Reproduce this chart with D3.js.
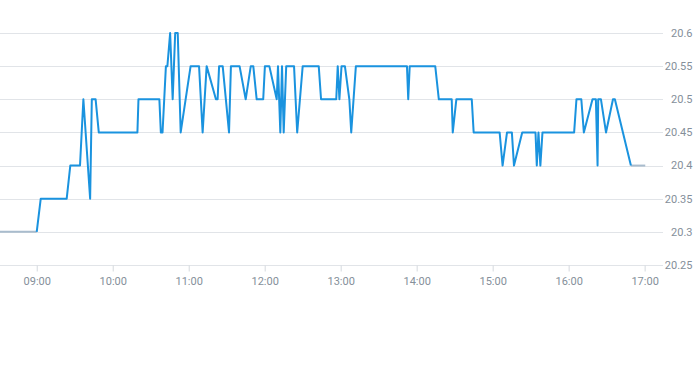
<!DOCTYPE html>
<html>
<head>
<meta charset="utf-8">
<script src="https://cdn.jsdelivr.net/npm/d3@7"></script>
<style>
  html, body { margin: 0; padding: 0; background: #fff; }
  svg { display: block; }
  text { font-family: Roboto, "Noto Sans", sans-serif; font-size: 11px; fill: #858f9a; }
</style>
</head>
<body>
<svg id="chart" width="693" height="365"></svg>
<script>
// ---- data ----
const preTimes   = ["08:30:00", "09:00:00"];
const preValues  = [20.30, 20.30];

const sessionTimes = [
  "09:00:00","09:03:10","09:23:40","09:26:30","09:34:10","09:36:50","09:42:10","09:43:30","09:46:30","09:49:00",
  "10:19:30","10:20:20","10:36:50","10:38:00","10:39:20","10:42:00","10:43:10","10:45:20","10:47:20","10:49:20",
  "10:51:20","10:53:40","11:01:30","11:08:10","11:11:00","11:14:10","11:21:30","11:22:50","11:24:00","11:26:50",
  "11:31:50","11:33:20","11:40:10","11:45:00","11:49:00","11:51:00","11:53:40","11:58:50","12:00:10","12:03:40",
  "12:09:30","12:10:30","12:12:20","12:13:40","12:15:00","12:17:00","12:23:10","12:25:40","12:30:00","12:42:40",
  "12:44:30","12:56:30","12:57:40","12:59:00","13:00:40","13:03:20","13:06:50","13:08:20","13:12:00","13:52:20",
  "13:53:20","13:54:30","14:14:40","14:17:30","14:27:40","14:28:30","14:31:20","14:43:30","14:45:00","15:05:30",
  "15:07:50","15:11:20","15:15:10","15:16:50","15:23:20","15:33:50","15:34:50","15:36:10","15:37:40","15:39:20",
  "16:04:20","16:06:10","16:10:00","16:12:00","16:18:50","16:21:30","16:22:50","16:23:20","16:25:30","16:29:30",
  "16:35:00","16:36:30","16:49:10"
];
const sessionValues = [
  20.30,20.35,20.35,20.40,20.40,20.50,20.35,20.50,20.50,20.45,
  20.45,20.50,20.50,20.45,20.45,20.55,20.55,20.60,20.50,20.60,
  20.60,20.45,20.55,20.55,20.45,20.55,20.50,20.50,20.55,20.55,
  20.45,20.55,20.55,20.50,20.55,20.55,20.50,20.50,20.55,20.55,
  20.50,20.55,20.45,20.55,20.45,20.55,20.55,20.45,20.55,20.55,
  20.50,20.50,20.55,20.50,20.55,20.55,20.50,20.45,20.55,20.55,
  20.50,20.55,20.55,20.50,20.50,20.45,20.50,20.50,20.45,20.45,
  20.40,20.45,20.45,20.40,20.45,20.45,20.40,20.45,20.40,20.45,
  20.45,20.50,20.50,20.45,20.50,20.50,20.40,20.50,20.50,20.45,
  20.50,20.50,20.40
];

const postTimes  = ["16:49:10", "17:00:30"];
const postValues = [20.40, 20.40];

const xTickLabels = ["09:00","10:00","11:00","12:00","13:00","14:00","15:00","16:00","17:00"];
const yTickValues = [20.25, 20.30, 20.35, 20.40, 20.45, 20.50, 20.55, 20.60];
const xDomain = ["08:31:00", "17:14:30"];
const yDomain = [20.25, 20.60];

// ---- chart ----
const parse = d3.timeParse("%H:%M:%S");
const parseHM = d3.timeParse("%H:%M");
const zip = (ts, vs) => ts.map((t, i) => ({ t: parse(t), v: vs[i] }));

const pre = zip(preTimes, preValues);
const session = zip(sessionTimes, sessionValues);
const post = zip(postTimes, postValues);

const plotLeft = 0, plotRight = 663, plotTop = 33, plotBottom = 265;

const x = d3.scaleTime().domain(xDomain.map(parse)).range([plotLeft, plotRight]);
const y = d3.scaleLinear().domain(yDomain).range([plotBottom, plotTop]);

const svg = d3.select("#chart");

// grid lines
svg.append("g").selectAll("line").data(yTickValues).join("line")
  .attr("x1", plotLeft).attr("x2", plotRight)
  .attr("y1", d => Math.round(y(d)) + 0.5).attr("y2", d => Math.round(y(d)) + 0.5)
  .attr("stroke", "#e1e4e8").attr("stroke-width", 1);

// y labels (right)
svg.append("g").selectAll("text").data(yTickValues).join("text")
  .attr("x", 692.5).attr("y", d => y(d)).attr("dy", "0.35em")
  .attr("text-anchor", "end")
  .text(d => String(+d.toFixed(2)));

// x axis
const xAxis = d3.axisBottom(x)
  .tickValues(xTickLabels.map(parseHM))
  .tickFormat(d3.timeFormat("%H:%M"))
  .tickSize(6).tickPadding(6);
const gx = svg.append("g").attr("transform", `translate(0,${Math.round(y(yDomain[0])) + 0.5})`).call(xAxis);
gx.select(".domain").remove();
gx.selectAll(".tick line").attr("stroke", "#d5d9de");
gx.selectAll(".tick text").attr("fill", "#858f9a").style("font-size", "11px").style("font-family", "Roboto, sans-serif");

// lines
const line = d3.line().x(d => x(d.t)).y(d => y(d.v));
svg.append("path").datum(pre).attr("d", line)
  .attr("fill", "none").attr("stroke", "#a9bccd").attr("stroke-width", 2);
svg.append("path").datum(post).attr("d", line)
  .attr("fill", "none").attr("stroke", "#a9bccd").attr("stroke-width", 2);
svg.append("path").datum(session).attr("d", line)
  .attr("fill", "none").attr("stroke", "#1a93df").attr("stroke-width", 2)
  .attr("stroke-linejoin", "round");
</script>
</body>
</html>
